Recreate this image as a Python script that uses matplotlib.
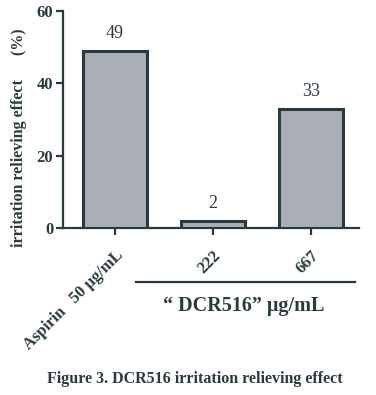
import numpy as np
import matplotlib.pyplot as plt
from matplotlib.lines import Line2D

labels = ['Aspirin   50 \u03bcg/mL', '222', '667']
values = [49, 2, 33]

ink = '#2b3a3f'
fill = '#aaaeb6'
plt.rcParams['font.family'] = ['Liberation Serif', 'DejaVu Serif']

fig = plt.figure(figsize=(3.76, 3.95), dpi=100)
ax = fig.add_axes([0.1676, 0.4228, 0.7874, 0.5494])
x = np.arange(len(values))
ax.bar(x, values, width=0.66, color=fill, edgecolor=ink, linewidth=2.2, zorder=3)
for xi, v in zip(x, values):
    ax.text(xi, v + 2.5, str(v), ha='center', va='bottom', fontsize=13, color=ink)

ax.set_xlim(-0.53, 2.49)
ax.set_ylim(0, 60)
ax.set_yticks([0, 20, 40, 60])
ax.set_xticks(x)
ax.set_xticklabels(labels, rotation=45, ha='right', rotation_mode='anchor',
                   fontsize=12, fontweight='bold', color=ink)
for lab in ax.get_yticklabels():
    lab.set_fontweight('bold')
    lab.set_fontsize(12)
    lab.set_color(ink)
for s in ['top', 'right']:
    ax.spines[s].set_visible(False)
for s in ['left', 'bottom']:
    ax.spines[s].set_linewidth(1.6)
    ax.spines[s].set_color(ink)
ax.tick_params(axis='both', length=5, width=1.6, color=ink, pad=2)
ax.tick_params(axis='x', pad=9)

fig.text(19 / 376, 1 - 138 / 395, 'irritation relieving effect      (%)', rotation=90,
         ha='center', va='center', fontsize=11.5, fontweight='bold', color=ink)

fig.add_artist(Line2D([136 / 376, 355 / 376], [1 - 282 / 395, 1 - 282 / 395],
                      color=ink, linewidth=1.6))
fig.text(244 / 376, 1 - 306 / 395, '\u201c DCR516\u201d \u03bcg/mL', ha='center', va='center',
         fontsize=14.5, fontweight='bold', color=ink)
fig.text(195 / 376, 1 - 379 / 395, 'Figure 3. DCR516 irritation relieving effect',
         ha='center', va='center', fontsize=11.5, fontweight='bold', color=ink)

fig.savefig('out.png', dpi=100)
